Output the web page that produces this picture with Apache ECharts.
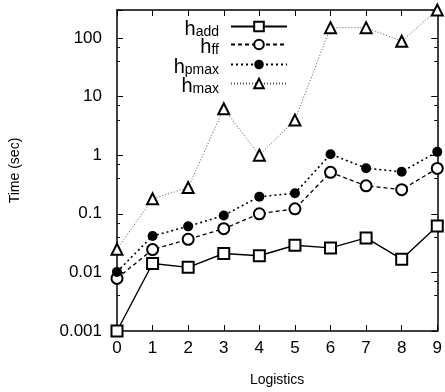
<!DOCTYPE html>
<html>
<head>
<meta charset="utf-8">
<script src="https://cdn.jsdelivr.net/npm/echarts@6/dist/echarts.min.js"></script>
<style>
  html, body { margin: 0; padding: 0; background: #fff; }
  #chart { width: 445px; height: 392px; }
</style>
</head>
<body>
<div id="chart"></div>
<script>
// problem index on x axis
const problems = [0, 1, 2, 3, 4, 5, 6, 7, 8, 9];

// time (sec) per heuristic
const hAdd = [0.001, 0.0142, 0.0122, 0.021, 0.0192, 0.029, 0.0262, 0.0387, 0.0168, 0.0617];
const hFf = [0.0079, 0.0245, 0.0367, 0.0557, 0.1, 0.1215, 0.51, 0.30, 0.258, 0.595];
const hPmax = [0.0102, 0.0419, 0.061, 0.0935, 0.196, 0.224, 1.04, 0.60, 0.52, 1.14];
const hMax = [0.0248, 0.18, 0.28, 6.2, 1.0, 3.97, 150, 150, 88, 300];

const yTickValues = [0.001, 0.01, 0.1, 1, 10, 100];

const seriesNames = ["h_add", "h_ff", "h_pmax", "h_max"];
const seriesSubs = ["add", "ff", "pmax", "max"];

const FONT = "Liberation Sans, Arial, Helvetica, sans-serif";

const chart = echarts.init(document.getElementById("chart"));

function pairs(vals) {
  return problems.map((x, i) => [x, vals[i]]);
}

// legend rows (one legend per row, text left of sample)
const legendTops = [17, 35, 55, 74];
const legends = seriesNames.map((name, i) => ({
  data: [name],
  top: legendTops[i],
  right: 157,
  align: "right",
  orient: "vertical",
  itemWidth: 56,
  itemHeight: 12,
  padding: 0,
  selectedMode: false,
  formatter: () => "{h|h}{s|" + seriesSubs[i] + "}",
  textStyle: {
    color: "#000",
    fontFamily: FONT,
    padding: [5, 7, 0, 0],
    rich: {
      h: { fontSize: 20, fontFamily: FONT, color: "#000", lineHeight: 20, verticalAlign: "top" },
      s: { fontSize: 14, fontFamily: FONT, color: "#000", lineHeight: 20, verticalAlign: "bottom", padding: [8, 0, 0, 0] },
    },
  },
}));

const tickStyle = { show: true, inside: true, length: 6, lineStyle: { color: "#000", width: 1 } };
const minorStyle = { show: true, splitNumber: 3, length: 3, lineStyle: { color: "#000", width: 1 } };
const lineAx = { show: true, onZero: false, lineStyle: { color: "#000", width: 1.5 } };

function yLabel(v) {
  const e = Math.log10(v);
  if (Math.abs(e - Math.round(e)) > 1e-6) return "";
  const hit = yTickValues.find((t) => Math.abs(Math.log10(t) - e) < 1e-6);
  return hit === undefined ? "" : String(hit);
}

const option = {
  backgroundColor: "#fff",
  animation: false,
  legend: legends,
  grid: { left: 117, right: 6, top: 10, bottom: 59, containLabel: false },
  xAxis: [
    {
      type: "value",
      min: 0,
      max: 9,
      interval: 1,
      position: "bottom",
      name: "Logistics",
      nameLocation: "middle",
      nameGap: 42,
      nameTextStyle: { fontFamily: FONT, fontSize: 14, color: "#000" },
      axisLine: lineAx,
      axisTick: tickStyle,
      splitLine: { show: false },
      axisLabel: { fontFamily: FONT, fontSize: 17, color: "#000", margin: 9 },
    },
    {
      type: "value",
      min: 0,
      max: 9,
      interval: 1,
      position: "top",
      axisLine: lineAx,
      axisTick: tickStyle,
      splitLine: { show: false },
      axisLabel: { show: false },
    },
  ],
  yAxis: [
    {
      type: "log",
      logBase: 10,
      min: 0.001,
      max: 300,
      interval: 1,
      position: "left",
      name: "Time (sec)",
      nameLocation: "middle",
      nameGap: 95,
      nameRotate: 90,
      nameTextStyle: { fontFamily: FONT, fontSize: 14, color: "#000" },
      axisLine: lineAx,
      axisTick: tickStyle,
      minorTick: minorStyle,
      splitLine: { show: false },
      axisLabel: { fontFamily: FONT, fontSize: 17, color: "#000", margin: 15, formatter: yLabel, showMaxLabel: false },
    },
    {
      type: "log",
      logBase: 10,
      min: 0.001,
      max: 300,
      interval: 1,
      position: "right",
      axisLine: lineAx,
      axisTick: tickStyle,
      minorTick: minorStyle,
      splitLine: { show: false },
      axisLabel: { show: false },
    },
  ],
  series: [
    {
      name: "h_add",
      type: "line",
      data: pairs(hAdd),
      symbol: "emptyRect",
      symbolSize: 11,
      lineStyle: { color: "#000", width: 1.4, type: "solid" },
      itemStyle: { color: "#000", borderWidth: 1.4 },
    },
    {
      name: "h_ff",
      type: "line",
      data: pairs(hFf),
      symbol: "emptyCircle",
      symbolSize: 11,
      lineStyle: { color: "#000", width: 1.3, type: [4, 3] },
      itemStyle: { color: "#000", borderWidth: 1.3 },
    },
    {
      name: "h_pmax",
      type: "line",
      data: pairs(hPmax),
      symbol: "circle",
      symbolSize: 10,
      lineStyle: { color: "#000", width: 1.6, type: [2, 3] },
      itemStyle: { color: "#000" },
    },
    {
      name: "h_max",
      type: "line",
      data: pairs(hMax),
      symbol: "emptyTriangle",
      symbolSize: 11,
      lineStyle: { color: "#555", width: 1, type: [1, 2] },
      itemStyle: { color: "#000", borderWidth: 1.4 },
    },
  ],
};

chart.setOption(option);
</script>
</body>
</html>
